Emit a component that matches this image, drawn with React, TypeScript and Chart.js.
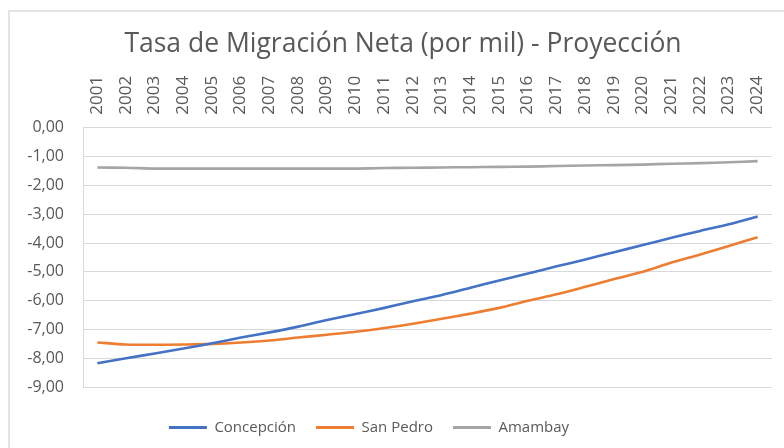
import React, { useEffect, useRef } from "react";
import { Chart, registerables } from "chart.js";

Chart.register(...registerables);

const years = [
  "2001", "2002", "2003", "2004", "2005", "2006", "2007", "2008", "2009", "2010", "2011", "2012",
  "2013", "2014", "2015", "2016", "2017", "2018", "2019", "2020", "2021", "2022", "2023", "2024",
];

const concepcion = [
  -8.17, -8.0, -7.83, -7.66, -7.48, -7.28, -7.1, -6.9, -6.67, -6.46, -6.25, -6.02,
  -5.8, -5.55, -5.3, -5.06, -4.81, -4.57, -4.32, -4.07, -3.82, -3.58, -3.35, -3.08,
];

const sanPedro = [
  -7.45, -7.52, -7.53, -7.52, -7.5, -7.45, -7.38, -7.28, -7.18, -7.08, -6.95, -6.8,
  -6.63, -6.45, -6.25, -6.0, -5.78, -5.52, -5.25, -5.0, -4.68, -4.4, -4.1, -3.8,
];

const amambay = [
  -1.38, -1.39, -1.42, -1.42, -1.42, -1.42, -1.42, -1.42, -1.42, -1.42, -1.4, -1.39,
  -1.38, -1.37, -1.36, -1.35, -1.33, -1.31, -1.3, -1.28, -1.25, -1.23, -1.2, -1.16,
];

const seriesNames = ["Concepción", "San Pedro", "Amambay"];
const seriesColors = ["#4472C4", "#ED7D31", "#A5A5A5"];
const titleText = "Tasa de Migración Neta (por mil) - Proyección";

const FONT = "'Open Sans', sans-serif";
const TEXT = "#595959";
const GRID = "#d9d9d9";

const shiftBlocks = {
  id: "shiftBlocks",
  afterLayout(chart: any) {
    const t = chart.titleBlock;
    if (t) {
      t.left += 6;
      t.right += 6;
    }
    const l = chart.legend;
    if (l) {
      l.left -= 28;
      l.right -= 28;
    }
  },
};

export default function App() {
  const ref = useRef<HTMLCanvasElement | null>(null);

  useEffect(() => {
    if (!ref.current) return;
    const values = [concepcion, sanPedro, amambay];
    const chart = new Chart(ref.current, {
      type: "line",
      data: {
        labels: years,
        datasets: values.map((v, i) => ({
          label: seriesNames[i],
          data: v,
          borderColor: seriesColors[i],
          backgroundColor: seriesColors[i],
          borderWidth: 2.6,
          pointRadius: 0,
          tension: 0.3,
          fill: false,
        })),
      },
      plugins: [shiftBlocks],
      options: {
        responsive: false,
        animation: false,
        layout: { padding: { left: 22, right: 12, top: 10, bottom: 3 } },
        plugins: {
          title: {
            display: true,
            text: titleText,
            color: TEXT,
            font: { family: FONT, size: 26.5, weight: "normal" },
            padding: { top: 19, bottom: 2 },
          },
          legend: {
            position: "bottom",
            title: {
              display: true,
              text: "",
              font: { family: FONT, size: 10.7 },
              padding: 0,
            },
            labels: {
              color: TEXT,
              font: { family: FONT, size: 15 },
              boxWidth: 38,
              boxHeight: 3,
              padding: 20,
              generateLabels: (c: any) =>
                Chart.defaults.plugins.legend.labels
                  .generateLabels(c)
                  .map((l: any) => ({ ...l, lineWidth: 0, fillStyle: l.strokeStyle })),
            },
          },
          tooltip: { enabled: false },
        },
        scales: {
          x: {
            position: "top",
            offset: true,
            grid: { display: false, drawTicks: false },
            border: { display: false },
            ticks: {
              color: TEXT,
              font: { family: FONT, size: 17 },
              minRotation: 90,
              maxRotation: 90,
              autoSkip: false,
              padding: 13,
              labelOffset: 20,
            },
          },
          y: {
            min: -9,
            max: 0,
            grid: { color: GRID, lineWidth: 1, drawTicks: false },
            border: { display: true, color: GRID, width: 1 },
            afterFit: (s: any) => {
              s.width = 61;
            },
            ticks: {
              stepSize: 1,
              color: TEXT,
              font: { family: FONT, size: 16 },
              padding: 19,
              callback: (v: any) => {
                const s = Number(v).toFixed(2).replace(".", ",");
                return s === "-0,00" ? "0,00" : s;
              },
            },
          },
        },
      },
    });
    return () => chart.destroy();
  }, []);

  return (
    <div
      style={{
        position: "fixed",
        left: 0,
        top: 0,
        width: 784,
        height: 448,
        overflow: "hidden",
        background: "#fff",
      }}
    >
      <div
        style={{
          position: "absolute",
          left: 8,
          top: 10,
          width: 820,
          height: 480,
          border: "2px solid #e3e3e3",
          boxSizing: "border-box",
        }}
      />
      <canvas ref={ref} width={784} height={448} style={{ position: "absolute", left: 0, top: 0 }} />
    </div>
  );
}
